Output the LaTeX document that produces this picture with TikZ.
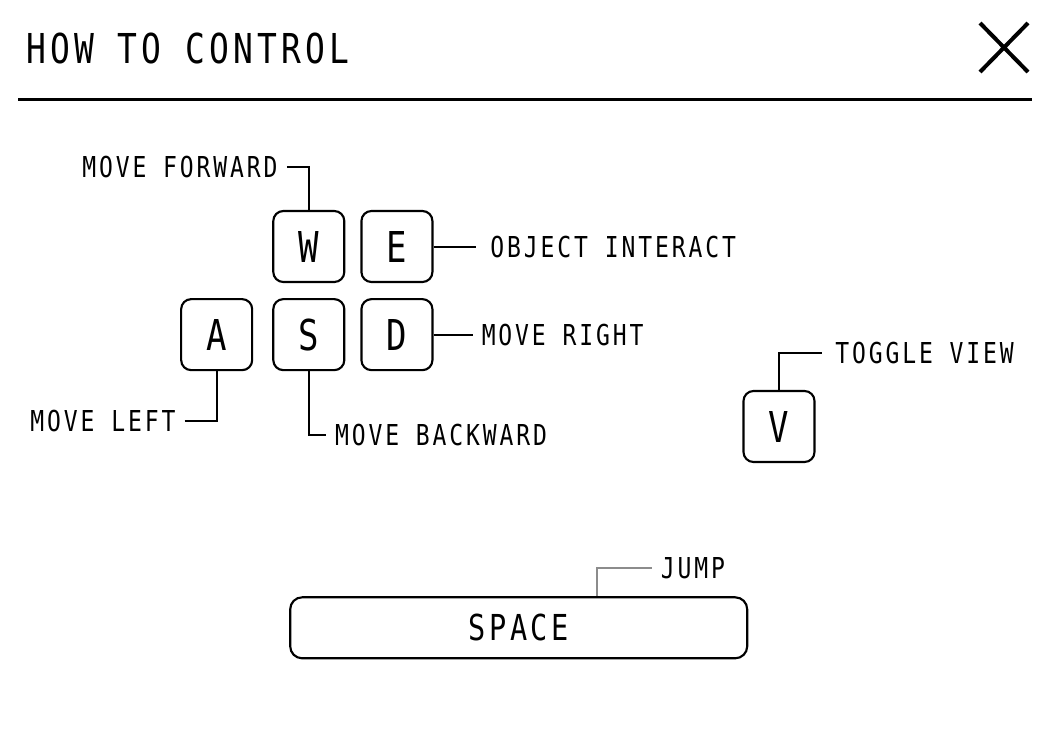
\documentclass[tikz,border=0pt]{standalone}
\usepackage{fontspec}
\setmainfont{DejaVu Sans Mono}[FakeStretch=0.8,LetterSpace=10]
\usetikzlibrary{positioning}

\begin{document}
\begin{tikzpicture}[x=0.75pt,y=-0.75pt,node distance=11.25pt,
	keyb/.style={
	  draw=black,
	  line width=1.6pt,
	  rounded corners=7.5pt,
	  minimum size=53.25pt,
	  inner sep=0pt,
	  font=\fontsize{31.9pt}{36pt}\selectfont
	},
	labelb/.style={
	  inner xsep=6.75pt,
	  inner ysep=0pt,
	  text height=15.75pt,
	  text depth=0pt,
	  font=\fontsize{21.6pt}{26pt}\selectfont
	},
	linkb/.style={
	  draw=black,
	  line width=1.5pt
	}]

	\useasboundingbox (0,0) rectangle (1050,750);

	\node[anchor=base west,inner sep=0pt,font=\fontsize{30.9pt}{36pt}\selectfont] (Title) at (26,63) {HOW TO CONTROL};
	\draw[line width=3pt] (980,23) -- (1028,72) (980,72) -- (1028,23);
	\draw[line width=2.25pt] (18,99) -- (1032,99);

	\node[keyb] (KeyW) at (308.8,246.5) {W};
	\node[keyb,right=of KeyW] (KeyE) {E};
	\node[keyb,below=of KeyW] (KeyS) {S};
	\node[keyb,right=of KeyS] (KeyD) {D};
	\node[keyb,left=14.25pt of KeyS] (KeyA) {A};
	\node[keyb] (KeyV) at (779,426.5) {V};
	\node[keyb,minimum width=342.75pt,minimum height=45.75pt,rounded corners=9pt,font=\fontsize{26.8pt}{32pt}\selectfont] (KeySpace) at (518.7,627.8) {SPACE};

	\node[labelb,anchor=east] (Forward) at ([xshift=-16.5pt,yshift=32.5pt]KeyW.north) {MOVE FORWARD};
	\node[labelb,inner xsep=11pt,right=31.5pt of KeyE] (Interact) {OBJECT INTERACT};
	\node[labelb,right=29.25pt of KeyD] (Right) {MOVE RIGHT};
	\node[labelb,anchor=east] (Left) at ([xshift=-24pt,yshift=-37.5pt]KeyA.south) {MOVE LEFT};
	\node[labelb,anchor=west] (Backward) at ([xshift=12.75pt,yshift=-48pt]KeyS.south) {MOVE BACKWARD};
	\node[labelb,inner xsep=10pt,anchor=west] (Toggle) at ([xshift=32pt,yshift=27.75pt]KeyV.north) {TOGGLE VIEW};
	\node[labelb,anchor=west] (Jump) at ([xshift=99.75pt,yshift=21pt]KeySpace.north) {JUMP};

	\draw[linkb] (Forward.east) -| (KeyW.north);
	\draw[linkb] (KeyE.east) -- (Interact.west);
	\draw[linkb] (KeyD.east) -- (Right.west);
	\draw[linkb] (Left.east) -| (KeyA.south);
	\draw[linkb] (Backward.west) -| (KeyS.south);
	\draw[linkb] (Toggle.west) -| (KeyV.north);
	\draw[linkb,draw=gray!90] (Jump.west) -| ([xshift=58.5pt]KeySpace.north);
\end{tikzpicture}
\end{document}
